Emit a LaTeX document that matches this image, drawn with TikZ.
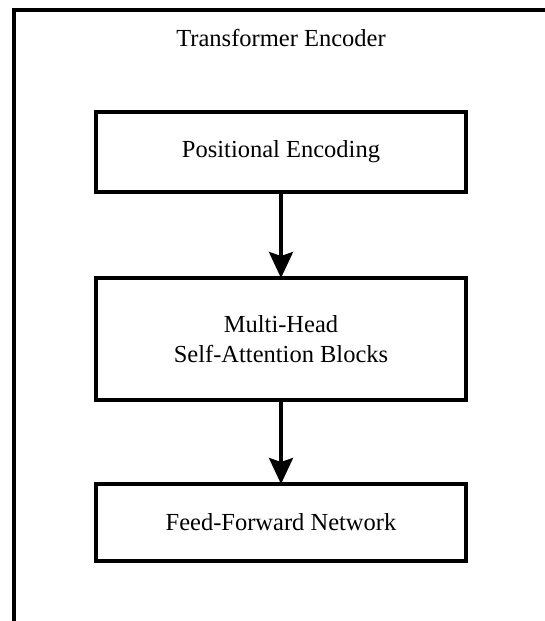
\documentclass[tikz,border=0pt]{standalone}
\usepackage{fontspec}
\setmainfont{Liberation Serif}
\usetikzlibrary{arrows.meta}
\begin{document}
\begin{tikzpicture}[x=1pt,y=-1pt,
  stagebox/.style={draw=black, line width=4pt, minimum width=370pt, inner sep=0pt, outer sep=0pt, align=center, font=\fontsize{24.5}{30}\selectfont},
  flowarrow/.style={line width=3.5pt, -{Stealth[length=26pt,width=24pt,inset=4pt]}},
  titletext/.style={font=\fontsize{24.5}{30}\selectfont}]
\useasboundingbox (0,0) rectangle (545,621);
\clip (0,0) rectangle (545,621);
\fill[white] (0,0) rectangle (545,621);
\draw[line width=4pt] (14,9.5) rectangle (580,660);
\node[titletext] (title) at (281,38) {Transformer Encoder};
\node[stagebox, minimum height=80pt] (pe) at (281,152) {Positional Encoding};
\node[stagebox, minimum height=122pt] (mh) at (281,339) {Multi-Head\\Self-Attention Blocks};
\node[stagebox, minimum height=77pt] (ff) at (281,522.5) {Feed-Forward Network};
\draw[flowarrow] (pe) -- (mh);
\draw[flowarrow] (mh) -- (ff);
\end{tikzpicture}
\end{document}
